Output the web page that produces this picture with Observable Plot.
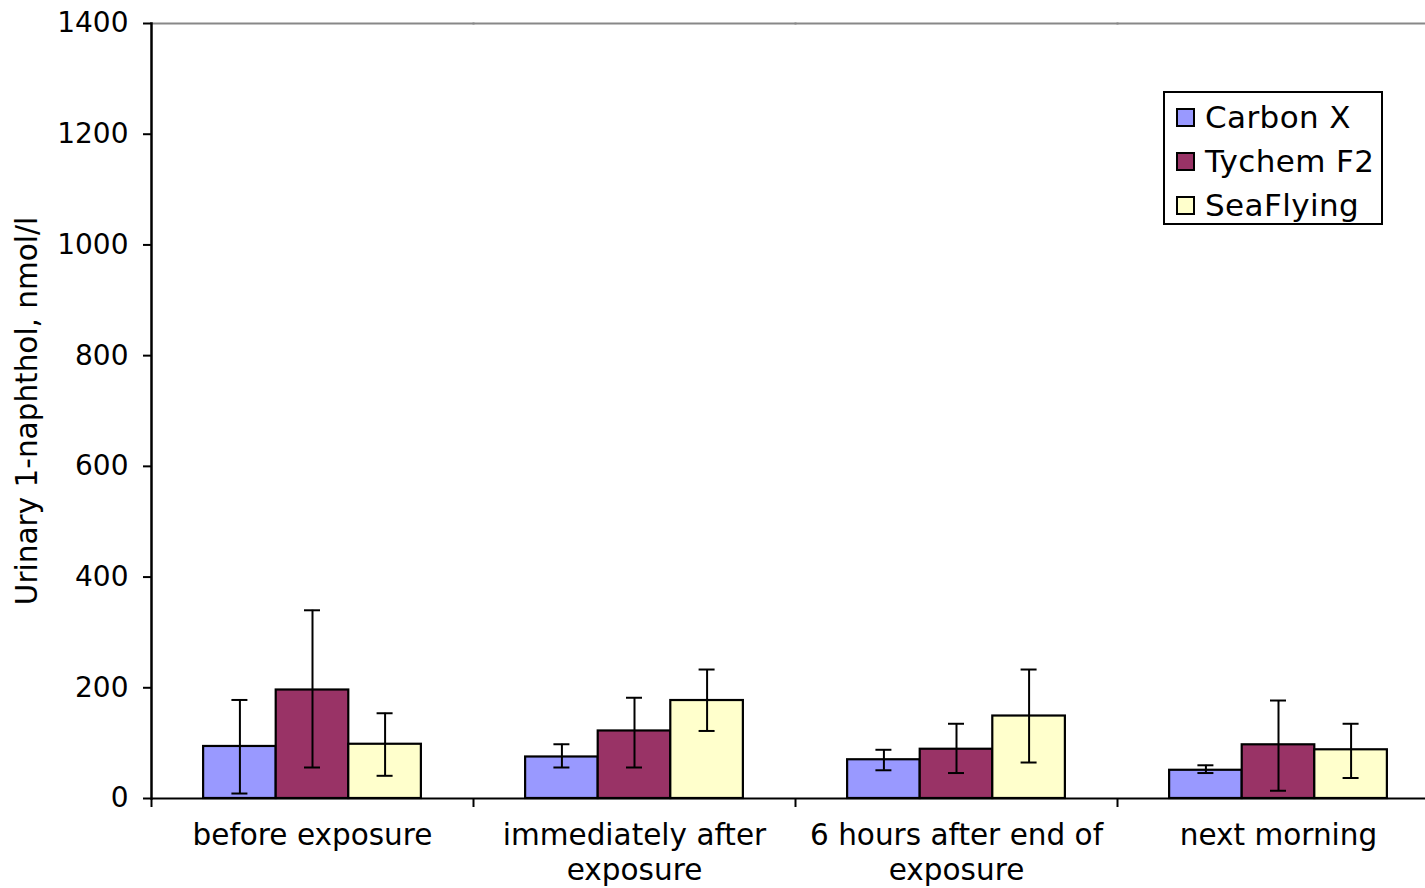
<!DOCTYPE html>
<html>
<head>
<meta charset="utf-8">
<script src="https://cdn.jsdelivr.net/npm/d3@7"></script>
<script src="https://cdn.jsdelivr.net/npm/@observablehq/plot@0.6"></script>
<style>
  html, body { margin: 0; padding: 0; overflow: hidden; background: #fff; }
  #chart { position: relative; width: 1444px; height: 888px; }
  #chart svg { max-width: none; }
  #legend {
    position: absolute; left: 1163px; top: 91px; width: 216px; height: 128px;
    border: 2px solid #000; background: #fff;
    font-family: "DejaVu Sans", Verdana, sans-serif; font-size: 31px; color: #000;
    padding-top: 2px; box-sizing: content-box; letter-spacing: 0.4px;
  }
  #legend .row { display: flex; align-items: center; height: 44px; padding-left: 11px; }
  #legend .sw { width: 15px; height: 15px; border: 2px solid #000; flex: none; }
  #legend .lab { margin-left: 10px; line-height: 44px; white-space: nowrap; }
</style>
</head>
<body>
<div id="chart"></div>
<script>
// ---- data ----
const categories = ["before exposure", "immediately after exposure", "6 hours after end of exposure", "next morning"];
const categoryLabels = ["before exposure", "immediately after\nexposure", "6 hours after end of\nexposure", "next morning"];
const series = ["Carbon X", "Tychem F2", "SeaFlying"];
const seriesColors = ["#9999FF", "#993366", "#FFFFCC"];

const carbonX      = [94, 75, 70, 51];
const carbonXLow   = [9, 56, 51, 46];
const carbonXHigh  = [178, 98, 88, 60];

const tychemF2     = [196, 122, 89, 97];
const tychemF2Low  = [56, 56, 46, 14];
const tychemF2High = [340, 182, 135, 177];

const seaFlying     = [98, 177, 149, 88];
const seaFlyingLow  = [41, 122, 65, 37];
const seaFlyingHigh = [154, 233, 233, 135];

const yTicks = [0, 200, 400, 600, 800, 1000, 1200, 1400];
const yTitle = "Urinary 1-naphthol, nmol/l";

// ---- table ----
const values = [carbonX, tychemF2, seaFlying];
const lows = [carbonXLow, tychemF2Low, seaFlyingLow];
const highs = [carbonXHigh, tychemF2High, seaFlyingHigh];
const rows = [];
categories.forEach((c, i) => {
  series.forEach((s, j) => {
    rows.push({category: c, series: s, value: values[j][i], low: lows[j][i], high: highs[j][i]});
  });
});

// ---- layout ----
const W = 1439, H = 888;
const mL = 151, mR = 0, mT = 23, mB = 90;
const facetW = (W - mL - mR) / categories.length;
const outerPad = 0.718;
const barW = facetW / (series.length + 2 * outerPad);
const capW = 16;
const capInset = (barW - capW) / 2;
const font = "'DejaVu Sans', Verdana, sans-serif";

const chart = Plot.plot({
  width: W, height: H,
  marginLeft: mL, marginRight: mR, marginTop: mT, marginBottom: mB,
  style: {fontFamily: font, fontSize: "28px", color: "#000", background: "#fff", overflow: "visible"},
  fx: {domain: categories, padding: 0, round: false, label: null},
  x: {domain: series, paddingInner: 0, paddingOuter: outerPad, round: false, axis: null},
  y: {domain: [0, 1400], axis: null},
  color: {domain: series, range: seriesColors},
  marks: [
    Plot.frame({anchor: "top", stroke: "#888", strokeWidth: 2}),
    Plot.barY(rows, {fx: "category", x: "series", y: "value", fill: "series", stroke: "#000", strokeWidth: 2.2}),
    Plot.ruleX(rows, {fx: "category", x: "series", y1: "low", y2: "high", stroke: "#000", strokeWidth: 2}),
    Plot.tickY(rows, {fx: "category", x: "series", y: "low", insetLeft: capInset, insetRight: capInset, stroke: "#000", strokeWidth: 2}),
    Plot.tickY(rows, {fx: "category", x: "series", y: "high", insetLeft: capInset, insetRight: capInset, stroke: "#000", strokeWidth: 2}),
    Plot.ruleY([0], {stroke: "#000", strokeWidth: 2}),
    Plot.frame({anchor: "left", facetAnchor: "left", stroke: "#000", strokeWidth: 2.5}),
    Plot.axisY({ticks: yTicks, tickFormat: d => String(d), tickSize: 8, tickPadding: 15, fontSize: 28, strokeWidth: 2, label: null}),
    Plot.axisY({ticks: [], tickSize: 0, fontSize: 29.5,
                label: yTitle, labelAnchor: "center", labelArrow: "none", labelOffset: 135}),
    Plot.axisFx({anchor: "bottom", tickSize: 9, tickFormat: () => "", dx: -facetW / 2, strokeWidth: 2, label: null}),
    Plot.axisFx({anchor: "bottom", tickSize: 0, tickPadding: 21, fontSize: 29.5, lineHeight: 1.2,
                 tickFormat: d => categoryLabels[categories.indexOf(d)], label: null})
  ]
});
const host = document.getElementById("chart");
host.appendChild(chart);

// ---- legend ----
const legend = document.createElement("div");
legend.id = "legend";
series.forEach((s, j) => {
  const row = document.createElement("div");
  row.className = "row";
  const sw = document.createElement("span");
  sw.className = "sw";
  sw.style.background = seriesColors[j];
  const lab = document.createElement("span");
  lab.className = "lab";
  lab.textContent = s;
  row.appendChild(sw);
  row.appendChild(lab);
  legend.appendChild(row);
});
host.appendChild(legend);
</script>
</body>
</html>
